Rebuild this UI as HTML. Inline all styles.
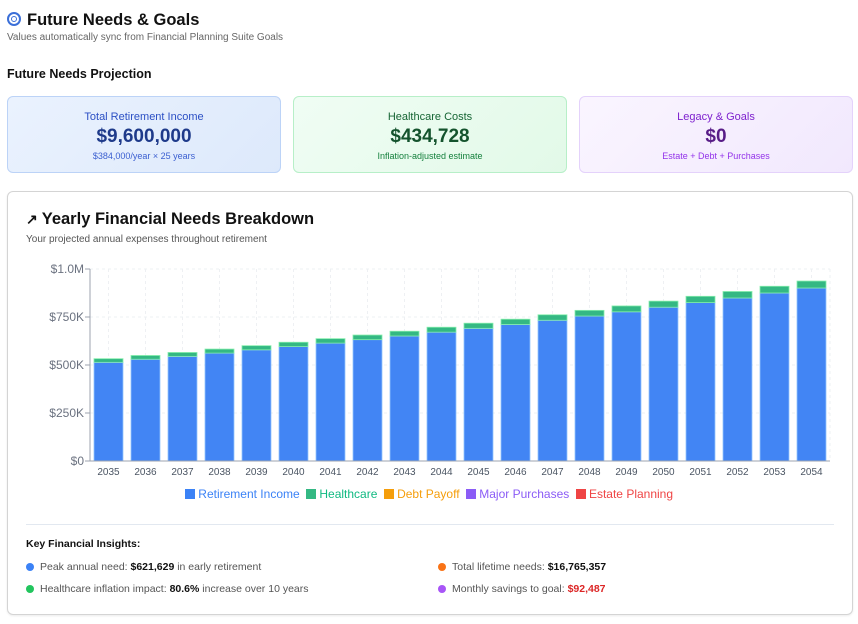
<!DOCTYPE html>
<html><head><meta charset="utf-8">
<style>
*{box-sizing:border-box;margin:0;padding:0}
body{width:858px;height:624px;background:#fff;font-family:"Liberation Sans",sans-serif;position:relative;overflow:hidden;color:#111}
.abs{position:absolute}
.card{position:absolute;top:96px;height:77px;width:274px;border-radius:6px;text-align:center}
.card .t{position:absolute;left:0;right:0;top:14px;font-size:11px}
.card .v{position:absolute;left:0;right:0;top:29px;font-size:19px;font-weight:bold}
.card .s{position:absolute;left:0;right:0;top:54px;font-size:9px}
.ins{position:absolute;font-size:10.5px;color:#555}
.ins b{color:#111}
.dot{display:inline-block;width:8px;height:8px;border-radius:50%;margin-right:6px;vertical-align:-1px}
</style></head><body>
<div class="abs" style="left:7px;top:11px;font-size:16.5px;font-weight:bold;"><span style="display:inline-block;width:14px;height:14px;border:2px solid #3b6fd8;border-radius:50%;position:relative;vertical-align:-1px;margin-right:6px;"><span style="position:absolute;left:2px;top:2px;width:6px;height:6px;border:1.5px solid #3b6fd8;border-radius:50%"></span></span>Future Needs &amp; Goals</div>
<div class="abs" style="left:7px;top:32px;font-size:10px;color:#666">Values automatically sync from Financial Planning Suite Goals</div>
<div class="abs" style="left:7px;top:67px;font-size:12.5px;font-weight:bold">Future Needs Projection</div>

<div class="card" style="left:7px;background:linear-gradient(135deg,#eaf2fe,#dde9fb);border:1px solid #bcd3f7">
<div class="t" style="color:#2b4fc4">Total Retirement Income</div><div class="v" style="color:#1e3a8a">$9,600,000</div><div class="s" style="color:#3b5fd0">$384,000/year × 25 years</div></div>
<div class="card" style="left:293px;background:linear-gradient(135deg,#f0fdf4,#e2f9e8);border:1px solid #b7efc8">
<div class="t" style="color:#166534">Healthcare Costs</div><div class="v" style="color:#14532d">$434,728</div><div class="s" style="color:#15803d">Inflation-adjusted estimate</div></div>
<div class="card" style="left:579px;background:linear-gradient(135deg,#faf5ff,#f1e8fd);border:1px solid #e4d2fb">
<div class="t" style="color:#7e22ce">Legacy &amp; Goals</div><div class="v" style="color:#581c87">$0</div><div class="s" style="color:#9333ea">Estate + Debt + Purchases</div></div>

<div class="abs" style="left:7px;top:191px;width:846px;height:424px;border:1px solid #d4d4d4;border-radius:6px;box-shadow:0 1px 2px rgba(0,0,0,.08)"></div>
<div class="abs" style="left:26px;top:210px;font-size:16.5px;font-weight:bold"><span style="font-size:14px;margin-right:4px">↗</span>Yearly Financial Needs Breakdown</div>
<div class="abs" style="left:26px;top:234px;font-size:10px;color:#555">Your projected annual expenses throughout retirement</div>

<svg class="abs" style="left:0;top:0" width="858" height="624" id="chart"></svg>

<div class="abs" style="left:0;width:858px;top:487px;text-align:center;font-size:12px">
<span style="color:#3b82f6"><span style="display:inline-block;width:10px;height:10px;background:#3b82f6;vertical-align:-1px"></span> Retirement Income</span>
<span style="color:#10b981;margin-left:3px"><span style="display:inline-block;width:10px;height:10px;background:#34b883;vertical-align:-1px"></span> Healthcare</span>
<span style="color:#f59e0b;margin-left:3px"><span style="display:inline-block;width:10px;height:10px;background:#f59e0b;vertical-align:-1px"></span> Debt Payoff</span>
<span style="color:#8b5cf6;margin-left:3px"><span style="display:inline-block;width:10px;height:10px;background:#8b5cf6;vertical-align:-1px"></span> Major Purchases</span>
<span style="color:#ef4444;margin-left:3px"><span style="display:inline-block;width:10px;height:10px;background:#ef4444;vertical-align:-1px"></span> Estate Planning</span>
</div>
<div class="abs" style="left:26px;top:524px;width:808px;height:1px;background:#e2e8f0"></div>
<div class="abs" style="left:26px;top:538px;font-size:10.5px;font-weight:bold">Key Financial Insights:</div>
<div class="ins" style="left:26px;top:561px"><span class="dot" style="background:#3b82f6"></span>Peak annual need: <b>$621,629</b> in early retirement</div>
<div class="ins" style="left:26px;top:583px"><span class="dot" style="background:#22c55e"></span>Healthcare inflation impact: <b>80.6%</b> increase over 10 years</div>
<div class="ins" style="left:438px;top:561px"><span class="dot" style="background:#f97316"></span>Total lifetime needs: <b>$16,765,357</b></div>
<div class="ins" style="left:438px;top:583px"><span class="dot" style="background:#a855f7"></span>Monthly savings to goal: <b style="color:#dc2626">$92,487</b></div>

<script>
const years=["2035","2036","2037","2038","2039","2040","2041","2042","2043","2044","2045","2046","2047","2048","2049","2050","2051","2052","2053","2054"];
const retirement=[514,530,545,562,579,596,614,632,651,671,691,711,733,755,777,801,825,849,875,901];
const healthcare=[19,19.6,20.3,21,21.7,22.5,23.3,24.1,24.9,25.8,26.7,27.6,28.6,29.6,30.6,31.7,32.8,33.9,35.1,36.3];
const yTicks=[0,250,500,750,1000];
const yTickLabels=["$0","$250K","$500K","$750K","$1.0M"];
const NS="http://www.w3.org/2000/svg";
const svg=document.getElementById('chart');
const X0=90,X1=830,Y0=461,Y1=269,MAX=1000;
const band=(X1-X0)/years.length;
function y(v){return Y0-(v/MAX)*(Y0-Y1);}
function x(i){return X0+i*band;}
function mk(t,a){const e=document.createElementNS(NS,t);for(const k in a)e.setAttribute(k,a[k]);svg.appendChild(e);return e;}
yTicks.forEach((t,i)=>{
  const g=mk('line',{x1:X0,x2:X1,y1:y(t),y2:y(t),stroke:'#eef0f3','stroke-dasharray':'3 3'});
  
  
  const tk=mk('line',{x1:X0-5,x2:X0,y1:y(t),y2:y(t),stroke:'#9ca3af'});
  
  
  const l=mk('text',{x:X0-6,y:y(t)+4,'text-anchor':'end','font-size':'12',fill:'#6b7280','font-family':'Liberation Sans, sans-serif'});
  l.textContent=yTickLabels[i];
  
  
});
const vr=mk('line',{x1:X1,x2:X1,y1:Y1,y2:Y0,stroke:'#eef0f3','stroke-dasharray':'3 3'});


years.forEach((yr,i)=>{
  const cx=x(i)+band/2;
  const g=mk('line',{x1:cx,x2:cx,y1:Y1,y2:Y0,stroke:'#eef0f3','stroke-dasharray':'3 3'});
  
  
  const bw=29;
  const r=retirement[i],h=healthcare[i];
  const b=mk('rect',{x:cx-bw/2,y:y(r),width:bw,height:Y0-y(r),fill:'#4285f4',stroke:'#93c5fd','stroke-width':0.8});
  
  
  const hb=mk('rect',{x:cx-bw/2,y:y(r+h),width:bw,height:y(r)-y(r+h),fill:'#34b883',stroke:'#86efac','stroke-width':0.8});
  
  
  const l=mk('text',{x:cx,y:Y0+14,'text-anchor':'middle','font-size':'10',fill:'#4b5563','font-family':'Liberation Sans, sans-serif'});
  l.textContent=yr;
  
  
});
const ya=mk('line',{x1:X0,x2:X0,y1:Y1,y2:Y0,stroke:'#9ca3af'});


const xa=mk('line',{x1:X0,x2:X1,y1:Y0,y2:Y0,stroke:'#9ca3af'});


</script>
</body></html>
